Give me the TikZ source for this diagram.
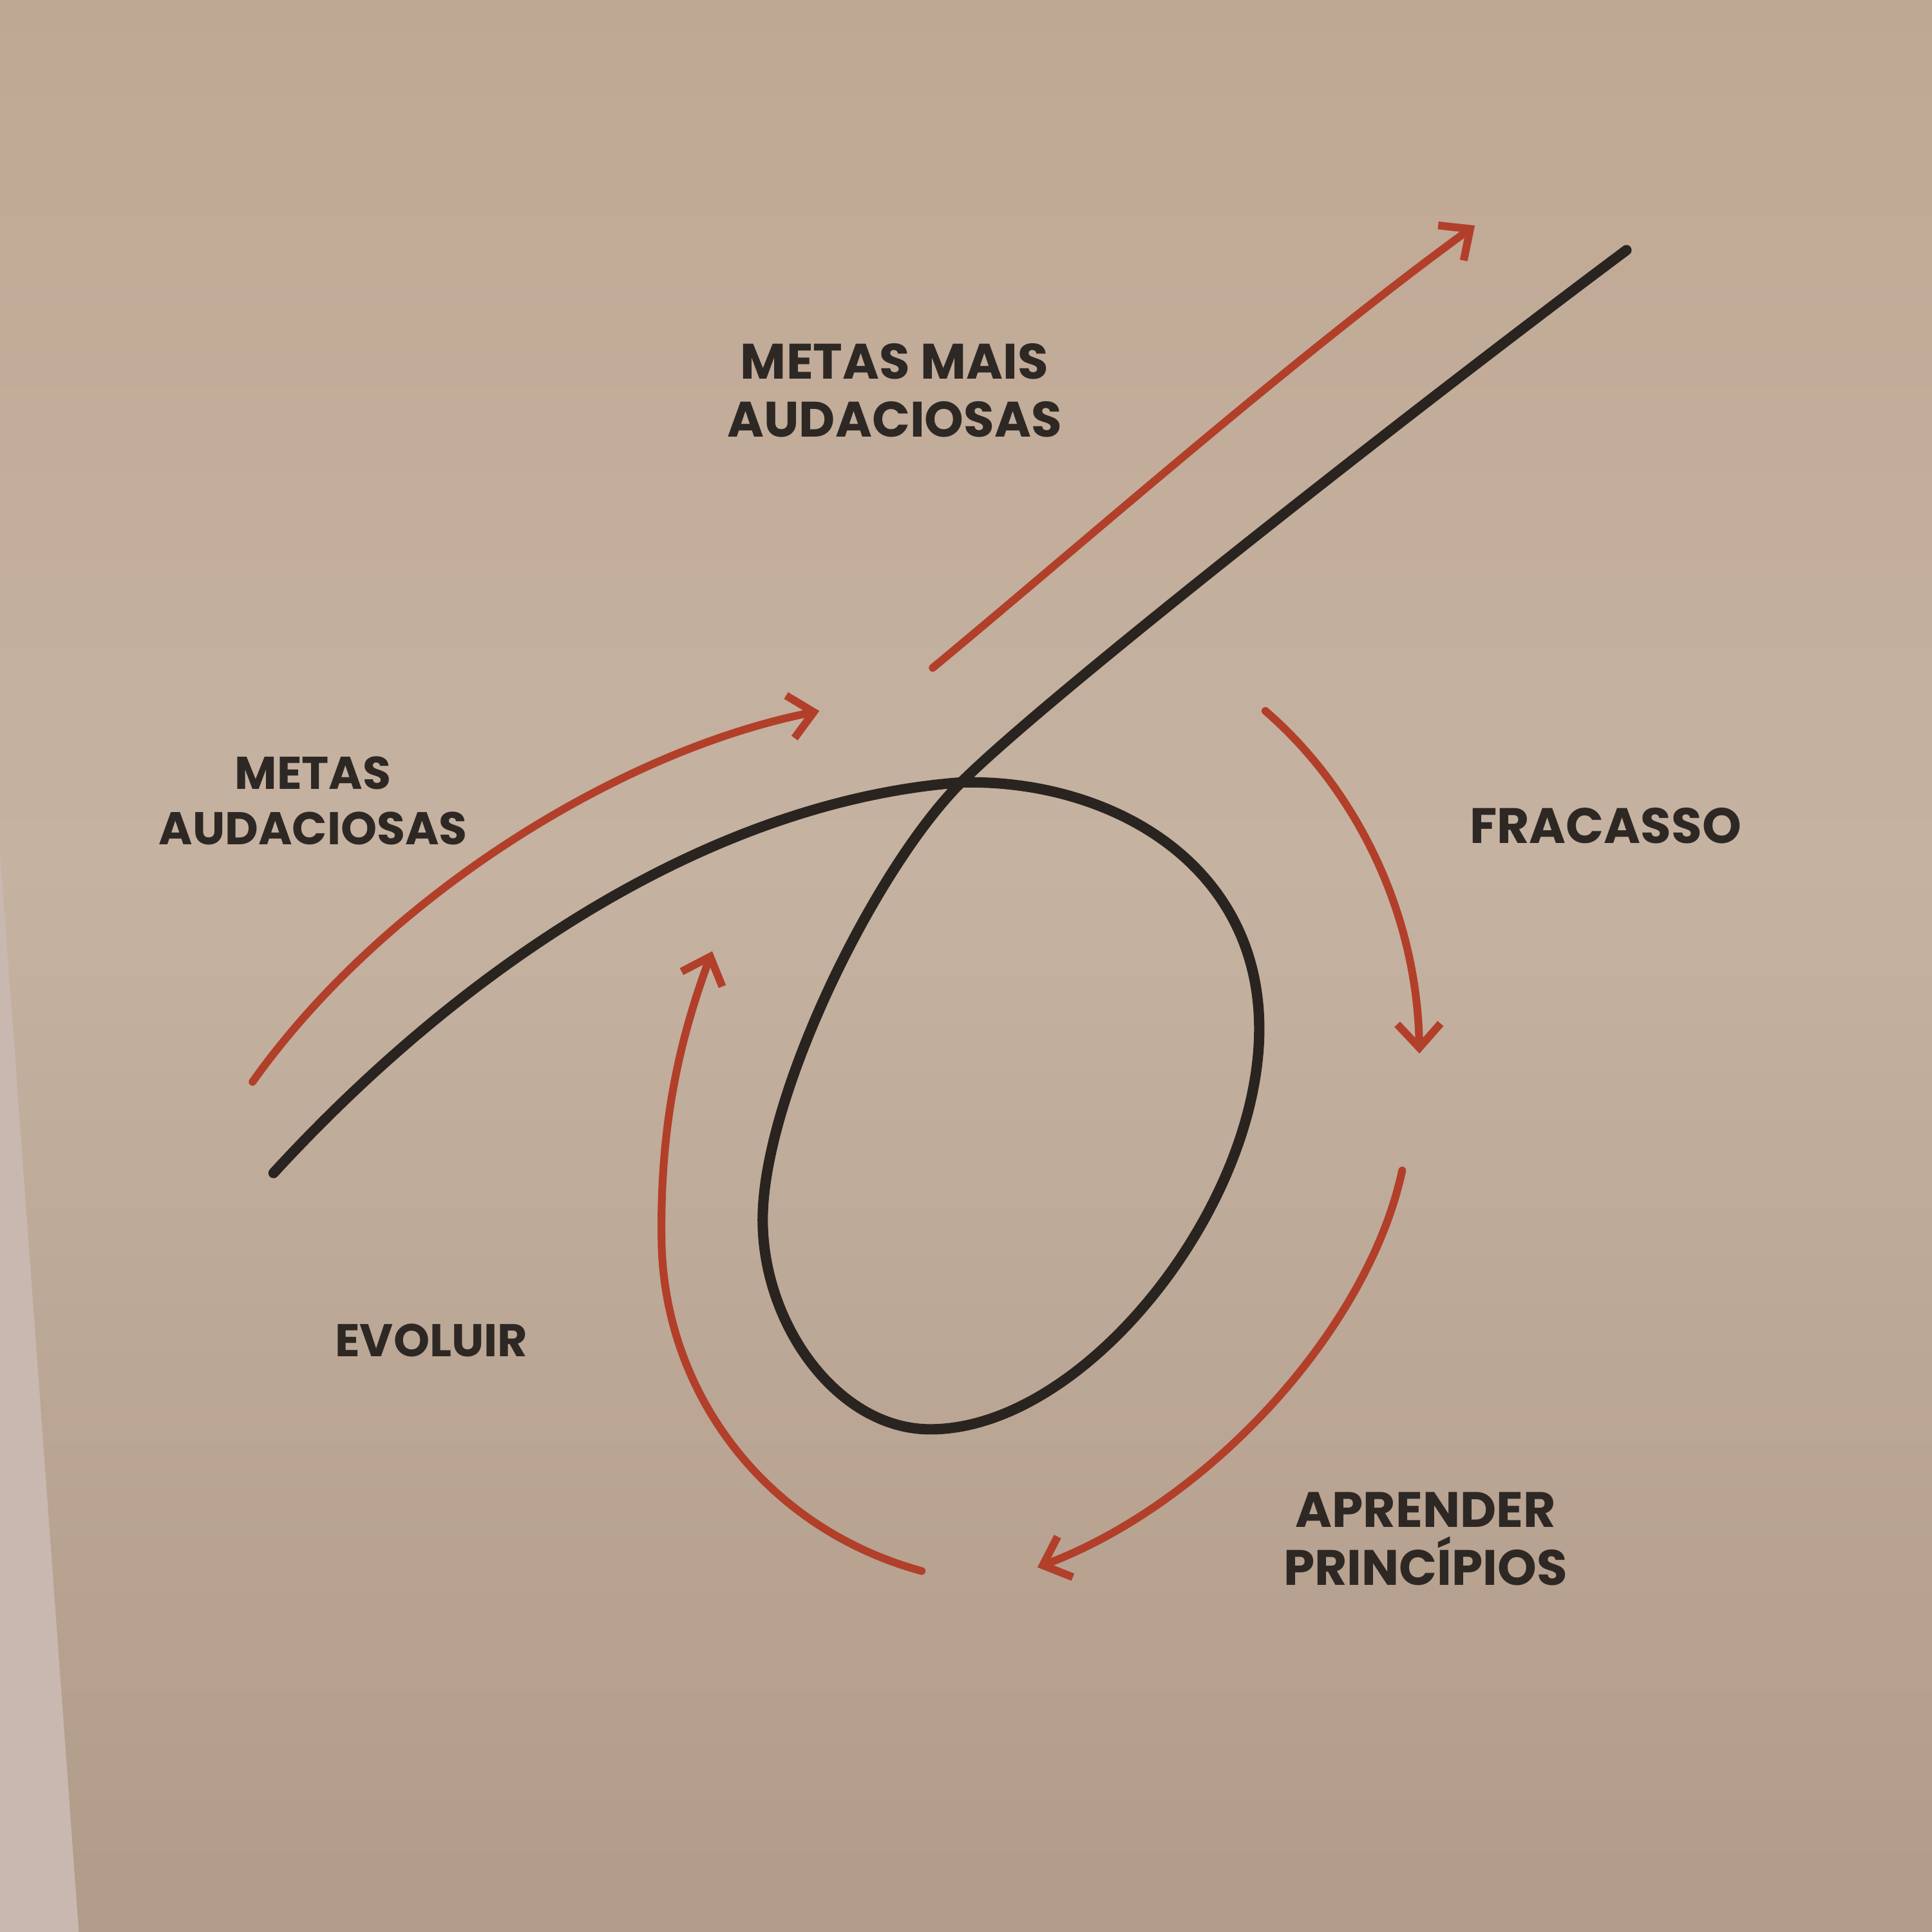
\documentclass[tikz,border=0pt]{standalone}
\usepackage{fontspec}
\setmainfont{Poppins}
\newfontfamily\lblfont{Poppins}
\usetikzlibrary{arrows.meta}

\definecolor{papertop}{HTML}{BFA893}
\definecolor{papermid}{HTML}{C5B2A1}
\definecolor{paperbot}{HTML}{B19B89}
\definecolor{pageedge}{HTML}{C8B8AF}
\definecolor{inkred}{HTML}{B23F2A}
\definecolor{inkblack}{HTML}{2A2420}
\definecolor{inktext}{HTML}{2E2825}

\tikzset{
  loopline/.style={draw=inkblack, line width=2.4pt, line cap=round},
  redarrow/.style={draw=inkred, line width=1.8pt, line cap=round,
    -{Straight Barb[length=5.5pt,width=10pt]}},
  lbl/.style={text=inktext, align=center, inner sep=0pt,
    font=\lblfont\bfseries\fontsize{11.5}{13.4}\selectfont},
  lblsmall/.style={lbl, font=\lblfont\bfseries\fontsize{10.6}{12.8}\selectfont}
}

\begin{document}
\begin{tikzpicture}[x=0.01cm,y=-0.01cm]
  % page
  \fill[top color=papertop,bottom color=papermid] (0,0) rectangle (1568,700);
  \fill[top color=papermid,bottom color=paperbot] (0,700) rectangle (1568,1568);
  \useasboundingbox (0,0) rectangle (1568,1568);
  \fill[pageedge] (0,690) -- (64,1568) -- (0,1568) -- cycle;

  % labels
  \node[lbl] (metasmais) at (726,317) {METAS MAIS\\AUDACIOSAS};
  \node[lblsmall] (metas) at (254,650) {METAS\\AUDACIOSAS};
  \node[lbl] (fracasso) at (1303,670) {FRACASSO};
  \node[lblsmall] (evoluir) at (350,1088) {EVOLUIR};
  \node[lbl] (aprender) at (1157,1249) {APRENDER\\PRINC\'IPIOS};

  % the loop
  \coordinate (start) at (222,952);
  \coordinate (cross) at (780,635);
  \coordinate (right) at (1022,835);
  \coordinate (bottom) at (755,1160);
  \coordinate (left) at (619,990);
  \coordinate (end) at (1320,203);
  \draw[loopline] (start) .. controls (380,780) and (580,650) .. (cross)
    .. controls (900,632) and (1022,700) .. (right)
    .. controls (1022,980) and (880,1160) .. (bottom)
    .. controls (680,1160) and (619,1075) .. (left)
    .. controls (619,890) and (710,705) .. (cross)
    .. controls (850,565) and (1150,330) .. (end);

  % red arrows
  \coordinate (metas-a) at (205,878);
  \coordinate (metas-b) at (665,577);
  \coordinate (mais-a) at (757,542);
  \coordinate (mais-b) at (1197,183);
  \coordinate (fra-a) at (1027,577);
  \coordinate (fra-b) at (1152,855);
  \coordinate (apr-a) at (1138,950);
  \coordinate (apr-b) at (842,1272);
  \coordinate (evo-a) at (748,1275);
  \coordinate (evo-m) at (537,1010);
  \coordinate (evo-b) at (578,772);

  \draw[redarrow] (metas-a) .. controls (310,730) and (500,610) .. (metas-b);
  \draw[redarrow] (mais-a) .. controls (880,440) and (1050,290) .. (mais-b);
  \draw[redarrow] (fra-a) .. controls (1100,640) and (1150,740) .. (fra-b);
  \draw[redarrow] (apr-a) .. controls (1110,1080) and (980,1220) .. (apr-b);
  \draw[redarrow] (evo-a) .. controls (620,1240) and (540,1130) .. (evo-m)
    .. controls (535,910) and (553,840) .. (evo-b);
\end{tikzpicture}
\end{document}
